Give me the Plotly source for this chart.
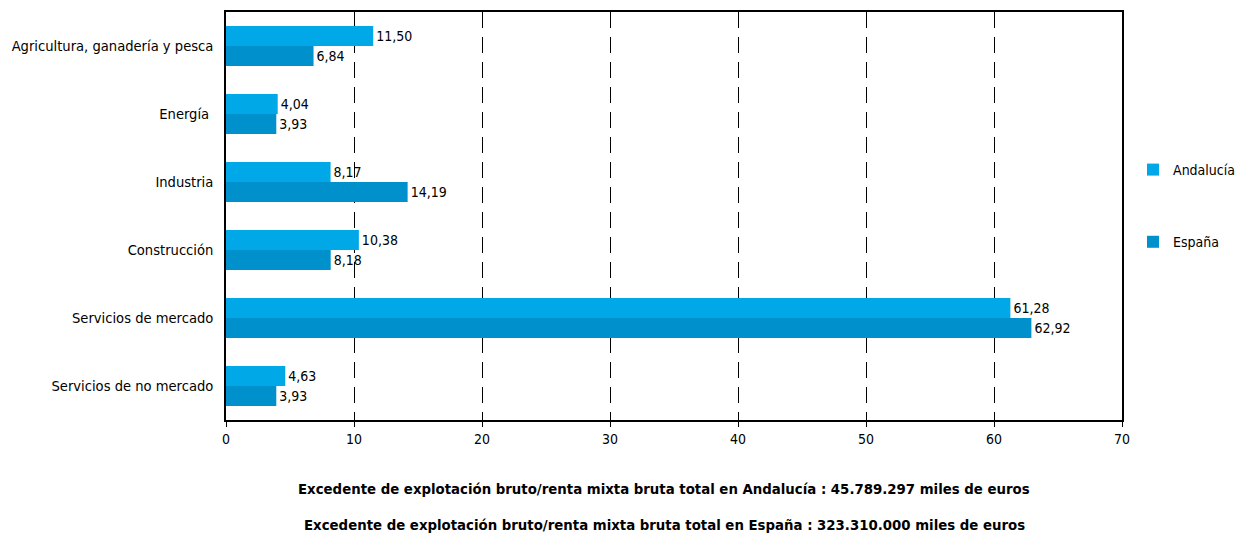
import plotly.graph_objects as go

categories = ["Agricultura, ganadería y pesca", "Energía ", "Industria", "Construcción",
              "Servicios de mercado", "Servicios de no mercado"]
andalucia = [11.50, 4.04, 8.17, 10.38, 61.28, 4.63]
espana = [6.84, 3.93, 14.19, 8.18, 62.92, 3.93]
x_ticks = [0, 10, 20, 30, 40, 50, 60, 70]

def fmt(v):
    return f"{v:.2f}".replace(".", ",")

FONT = "DejaVu Sans Condensed, Liberation Sans Narrow, sans-serif"

fig = go.Figure()
fig.add_trace(go.Bar(
    y=categories, x=andalucia, orientation="h", name="Andalucía",
    marker=dict(color="#00A8E8", line=dict(width=0)),
    text=[fmt(v) for v in andalucia], textposition="outside",
    textfont=dict(size=14, color="#000", family=FONT), cliponaxis=False,
    legendgroup="a"))
fig.add_trace(go.Bar(
    y=categories, x=espana, orientation="h", name="España",
    marker=dict(color="#0091CC", line=dict(width=0)),
    text=[fmt(v) for v in espana], textposition="outside",
    textfont=dict(size=14, color="#000", family=FONT), cliponaxis=False,
    legendgroup="b"))

fig.update_layout(
    width=1236, height=535,
    margin=dict(l=226, r=114, t=12, b=115, autoexpand=False),
    barmode="group", bargap=0.41, bargroupgap=0,
    plot_bgcolor="white", paper_bgcolor="white",
    font=dict(family=FONT, size=14, color="#000"),
    legend=dict(x=1.0123, y=0.652, xanchor="left", yanchor="top",
                bgcolor="rgba(0,0,0,0)",
                tracegroupgap=51, font=dict(size=14),
                itemwidth=30, traceorder="grouped"),
    xaxis=dict(range=[0, 70], tickvals=x_ticks, ticks="outside", ticklen=5,
               tickcolor="#000", showline=True, linecolor="#000", linewidth=1.5,
               mirror=True, showgrid=True, gridcolor="#000", griddash="16px,9px",
               gridwidth=1.2, zeroline=False, tickfont=dict(size=14)),
    yaxis=dict(autorange="reversed", showline=True, linecolor="#000", linewidth=1.5,
               mirror=True, ticks="", ticklabelstandoff=8, tickfont=dict(size=14.6)),
)

fig.add_annotation(x=0.489, y=-0.169, xref="paper", yref="paper", showarrow=False,
                   text="<b>Excedente de explotación bruto/renta mixta bruta total en Andalucía : 45.789.297 miles de euros</b>",
                   font=dict(size=14.8, family=FONT), xanchor="center", yanchor="middle")
fig.add_annotation(x=0.489, y=-0.257, xref="paper", yref="paper", showarrow=False,
                   text="<b>Excedente de explotación bruto/renta mixta bruta total en España : 323.310.000 miles de euros</b>",
                   font=dict(size=14.8, family=FONT), xanchor="center", yanchor="middle")

fig.write_html("out.html", config={"displayModeBar": False},
               post_script="document.body.style.margin='0px';")
